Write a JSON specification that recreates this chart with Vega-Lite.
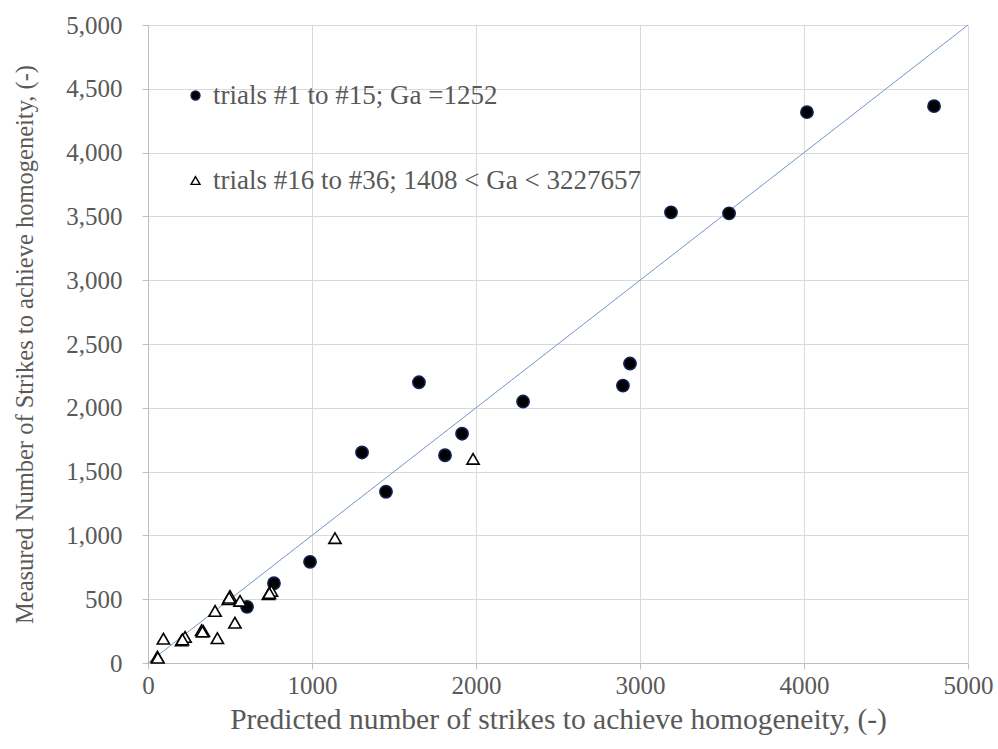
{
  "$schema": "https://vega.github.io/schema/vega-lite/v6.json",
  "width": 820,
  "height": 638,
  "autosize": {"type": "none"},
  "padding": {"left": 148, "top": 25, "right": 30, "bottom": 86},
  "background": "white",
  "config": {
    "view": {"stroke": null},
    "font": "Times New Roman, Liberation Serif, serif",
    "axis": {
      "labelFont": "Times New Roman, Liberation Serif, serif",
      "titleFont": "Times New Roman, Liberation Serif, serif",
      "labelColor": "#595959",
      "titleColor": "#595959",
      "labelFontSize": 25,
      "titleFontSize": 25,
      "titleFontWeight": "normal",
      "gridColor": "#d9d9d9",
      "domainColor": "#bfbfbf",
      "tickColor": "#bfbfbf",
      "tickSize": 6,
      "labelFlush": false
    }
  },
  "layer": [
    {
      "data": {"values": [{"px": 0, "mx": 0}, {"px": 5000, "mx": 5000}]},
      "mark": {"type": "line", "color": "#6f97c9", "strokeWidth": 1},
      "encoding": {
        "x": {
          "field": "px", "type": "quantitative",
          "scale": {"domain": [0, 5000], "nice": false},
          "axis": {"values": [0, 1000, 2000, 3000, 4000, 5000], "format": "d", "labelPadding": 4, "titleFontSize": 29.5, "titlePadding": 7,
                   "title": "Predicted number of strikes to achieve homogeneity, (-)"}
        },
        "y": {
          "field": "mx", "type": "quantitative",
          "scale": {"domain": [0, 5000], "nice": false},
          "axis": {"values": [0, 500, 1000, 1500, 2000, 2500, 3000, 3500, 4000, 4500, 5000], "format": ",d", "labelPadding": 20, "titleFontSize": 24.5, "titlePadding": 28,
                   "title": "Measured Number of Strikes to achieve homogeneity, (-)"}
        }
      }
    },
    {
      "data": {"values": [
        {"series": "trials #1 to #15; Ga =1252", "px": 604, "mx": 440},
        {"series": "trials #1 to #15; Ga =1252", "px": 768, "mx": 625},
        {"series": "trials #1 to #15; Ga =1252", "px": 988, "mx": 793},
        {"series": "trials #1 to #15; Ga =1252", "px": 1305, "mx": 1650},
        {"series": "trials #1 to #15; Ga =1252", "px": 1451, "mx": 1342},
        {"series": "trials #1 to #15; Ga =1252", "px": 1652, "mx": 2200},
        {"series": "trials #1 to #15; Ga =1252", "px": 1811, "mx": 1628},
        {"series": "trials #1 to #15; Ga =1252", "px": 1915, "mx": 1797},
        {"series": "trials #1 to #15; Ga =1252", "px": 2287, "mx": 2049},
        {"series": "trials #1 to #15; Ga =1252", "px": 2896, "mx": 2174},
        {"series": "trials #1 to #15; Ga =1252", "px": 2939, "mx": 2347},
        {"series": "trials #1 to #15; Ga =1252", "px": 3189, "mx": 3532},
        {"series": "trials #1 to #15; Ga =1252", "px": 3543, "mx": 3524},
        {"series": "trials #1 to #15; Ga =1252", "px": 4018, "mx": 4317},
        {"series": "trials #1 to #15; Ga =1252", "px": 4793, "mx": 4364},
        {"series": "trials #16 to #36; 1408 < Ga < 3227657", "px": 57, "mx": 49},
        {"series": "trials #16 to #36; 1408 < Ga < 3227657", "px": 94, "mx": 190},
        {"series": "trials #16 to #36; 1408 < Ga < 3227657", "px": 205, "mx": 178},
        {"series": "trials #16 to #36; 1408 < Ga < 3227657", "px": 226, "mx": 204},
        {"series": "trials #16 to #36; 1408 < Ga < 3227657", "px": 327, "mx": 257},
        {"series": "trials #16 to #36; 1408 < Ga < 3227657", "px": 337, "mx": 251},
        {"series": "trials #16 to #36; 1408 < Ga < 3227657", "px": 423, "mx": 194},
        {"series": "trials #16 to #36; 1408 < Ga < 3227657", "px": 409, "mx": 408},
        {"series": "trials #16 to #36; 1408 < Ga < 3227657", "px": 530, "mx": 316},
        {"series": "trials #16 to #36; 1408 < Ga < 3227657", "px": 500, "mx": 526},
        {"series": "trials #16 to #36; 1408 < Ga < 3227657", "px": 490, "mx": 500},
        {"series": "trials #16 to #36; 1408 < Ga < 3227657", "px": 561, "mx": 487},
        {"series": "trials #16 to #36; 1408 < Ga < 3227657", "px": 734, "mx": 539},
        {"series": "trials #16 to #36; 1408 < Ga < 3227657", "px": 753, "mx": 565},
        {"series": "trials #16 to #36; 1408 < Ga < 3227657", "px": 1140, "mx": 979},
        {"series": "trials #16 to #36; 1408 < Ga < 3227657", "px": 1982, "mx": 1600},
        {"series": "trials #16 to #36; 1408 < Ga < 3227657", "px": 60, "mx": 42},
        {"series": "trials #16 to #36; 1408 < Ga < 3227657", "px": 210, "mx": 185},
        {"series": "trials #16 to #36; 1408 < Ga < 3227657", "px": 332, "mx": 246},
        {"series": "trials #16 to #36; 1408 < Ga < 3227657", "px": 495, "mx": 512},
        {"series": "trials #16 to #36; 1408 < Ga < 3227657", "px": 740, "mx": 548}
      ]},
      "mark": {"type": "point", "size": 150, "strokeWidth": 1.6, "opacity": 1, "fillOpacity": 1},
      "encoding": {
        "x": {"field": "px", "type": "quantitative"},
        "y": {"field": "mx", "type": "quantitative"},
        "shape": {
          "field": "series", "type": "nominal",
          "scale": {"domain": ["trials #1 to #15; Ga =1252", "trials #16 to #36; 1408 < Ga < 3227657"], "range": ["circle", "triangle-up"]},
          "legend": {
            "title": null, "orient": "none", "legendX": 34, "legendY": 57,
            "labelFont": "Times New Roman, Liberation Serif, serif", "labelFontSize": 27, "labelColor": "#595959", "labelLimit": 0,
            "rowPadding": 57, "labelOffset": 4, "symbolSize": 80, "symbolStrokeWidth": 1.4
          }
        },
        "fill": {
          "field": "series", "type": "nominal",
          "scale": {"domain": ["trials #1 to #15; Ga =1252", "trials #16 to #36; 1408 < Ga < 3227657"], "range": ["#000000", "#ffffff"]},
          "legend": null
        },
        "stroke": {
          "field": "series", "type": "nominal",
          "scale": {"domain": ["trials #1 to #15; Ga =1252", "trials #16 to #36; 1408 < Ga < 3227657"], "range": ["#10214f", "#000000"]},
          "legend": null
        }
      }
    }
  ]
}
